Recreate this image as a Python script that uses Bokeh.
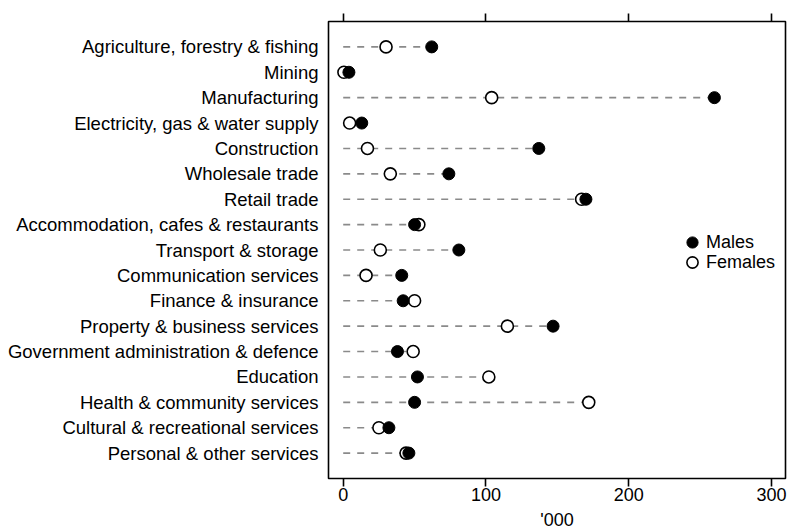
from bokeh.plotting import figure
from bokeh.models import (ColumnDataSource, FactorRange, Range1d, LinearAxis,
                          FixedTicker, Legend, LegendItem, CustomJSTickFormatter)
from bokeh.embed import file_html
from bokeh.resources import INLINE

categories = [
    "Agriculture, forestry & fishing",
    "Mining",
    "Manufacturing",
    "Electricity, gas & water supply",
    "Construction",
    "Wholesale trade",
    "Retail trade",
    "Accommodation, cafes & restaurants",
    "Transport & storage",
    "Communication services",
    "Finance & insurance",
    "Property & business services",
    "Government administration & defence",
    "Education",
    "Health & community services",
    "Cultural & recreational services",
    "Personal & other services",
]
males = [62, 4, 260, 13, 137, 74, 170, 50, 81, 41, 42, 147, 38, 52, 50, 32, 46]
females = [30, 0.5, 104, 4.5, 17, 33, 167, 53, 26, 16, 50, 115, 49, 102, 172, 25, 44]
x_ticks = [0, 100, 200, 300]
x_title = "'000"
series_names = ["Males", "Females"]

FONT = "Liberation Sans"
FS = "18px"

src = ColumnDataSource(dict(
    cat=categories,
    males=males,
    females=females,
    zero=[0] * len(categories),
    hi=[max(m, f) for m, f in zip(males, females)],
))

rows = list(reversed(categories))
p = figure(
    width=789, height=532, output_backend="svg", toolbar_location=None,
    y_range=FactorRange(factors=rows, range_padding=0.5, range_padding_units="absolute"),
    x_range=Range1d(-10.3, 309.8),
    x_axis_location="below", y_axis_location="left",
    min_border_left=328, min_border_right=4, min_border_top=21, min_border_bottom=0,
)
p.background_fill_color = "white"
p.border_fill_color = "white"
p.outline_line_color = "black"
p.outline_line_width = 1.6
p.xgrid.visible = False
p.ygrid.visible = False

# left categorical axis
ya = p.yaxis[0]
ya.axis_line_color = None
ya.major_tick_line_color = None
ya.minor_tick_line_color = None
ya.major_tick_out = 0
ya.major_tick_in = 0
ya.major_label_standoff = 10
ya.major_label_orientation = "horizontal"
ya.major_label_text_font = FONT
ya.major_label_text_font_size = "18.5px"
ya.major_label_text_color = "black"

# bottom axis
xa = p.xaxis[0]
xa.ticker = FixedTicker(ticks=x_ticks)
xa.axis_line_color = None
xa.major_tick_out = 8
xa.major_tick_in = 0
xa.major_tick_line_width = 1.6
xa.major_tick_line_color = "black"
xa.minor_tick_line_color = None
xa.major_label_standoff = 1
xa.major_label_text_font = FONT
xa.major_label_text_font_size = FS
xa.major_label_text_color = "black"
xa.axis_label = x_title
xa.axis_label_standoff = 6
xa.axis_label_text_font = FONT
xa.axis_label_text_font_size = FS
xa.axis_label_text_font_style = "normal"
xa.axis_label_text_color = "black"

# top axis (tick marks only, no labels)
ta = LinearAxis(ticker=FixedTicker(ticks=x_ticks),
                formatter=CustomJSTickFormatter(code="return ''"))
ta.axis_line_color = None
ta.major_tick_out = 8
ta.major_tick_in = 0
ta.major_tick_line_width = 1.6
ta.major_tick_line_color = "black"
ta.minor_tick_line_color = None
ta.major_label_text_font_size = "1px"
ta.major_label_standoff = 0
p.add_layout(ta, "above")

p.segment(x0="zero", x1="hi", y0="cat", y1="cat", source=src,
          line_color="#8a8a8a", line_width=1.6, line_dash="7 7")

r_f = p.scatter(x="females", y="cat", source=src, size=12, marker="circle",
                fill_color="white", line_color="black", line_width=1.6)
r_m = p.scatter(x="males", y="cat", source=src, size=12, marker="circle",
                fill_color="black", line_color="black", line_width=1)

legend_style = dict(
    border_line_color=None, background_fill_alpha=0,
    padding=0, spacing=0, margin=0,
    glyph_width=28, glyph_height=28, label_height=20, label_standoff=-3,
    label_text_font=FONT, label_text_font_size=FS, label_text_color="black",
)
for name, rend, loc in [(series_names[0], r_m, (350, 222)),
                        (series_names[1], r_f, (350, 202))]:
    p.add_layout(Legend(items=[LegendItem(label=name, renderers=[rend])],
                        location=loc, **legend_style), "center")

open("out.html", "w").write(file_html(p, INLINE))
